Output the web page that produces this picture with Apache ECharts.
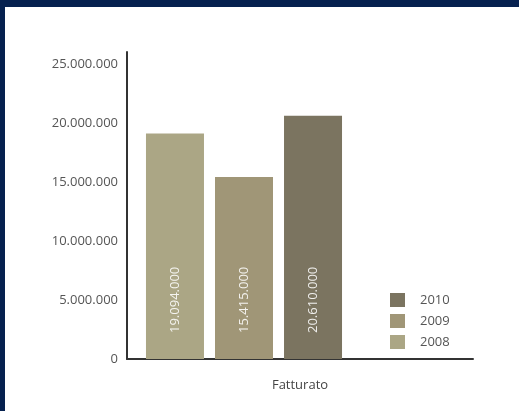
<!DOCTYPE html>
<html>
<head>
<meta charset="utf-8">
<script src="https://cdn.jsdelivr.net/npm/echarts@6/dist/echarts.min.js"></script>
<style>
html,body{margin:0;padding:0;background:#06214f;width:519px;height:411px;overflow:hidden;}
#chart{position:absolute;left:5px;top:7px;width:514px;height:404px;background:#ffffff;}
</style>
</head>
<body>
<div id="chart"></div>
<script>
const category = ['Fatturato'];
const seriesNames = ['2008', '2009', '2010'];
const values2008 = [19094000];
const values2009 = [15415000];
const values2010 = [20610000];
const legendOrder = ['2010', '2009', '2008'];
const colors = ['#aba685', '#a09677', '#7b7460'];

function fmt(v) {
  return String(v).replace(/\B(?=(\d{3})+(?!\d))/g, '.');
}

const chart = echarts.init(document.getElementById('chart'), null, {renderer: 'canvas'});
const dataSets = [values2008, values2009, values2010];

const option = {
  animation: false,
  textStyle: {fontFamily: 'Open Sans'},
  grid: [
    {left: 122, right: 46, top: 45, bottom: 52},
    {left: 122, width: 234, top: 45, bottom: 52}
  ],
  legend: {
    data: legendOrder,
    orient: 'vertical',
    left: 385,
    top: 286,
    padding: 0,
    itemWidth: 15,
    itemHeight: 14,
    itemGap: 7,
    icon: 'rect',
    textStyle: {color: '#555', fontSize: 13, fontFamily: 'Open Sans', padding: [0, 0, 0, 10]}
  },
  xAxis: [
    {
      type: 'category', gridIndex: 0, data: category,
      axisLine: {lineStyle: {color: '#333', width: 2}},
      axisTick: {show: false},
      axisLabel: {show: false},
      name: category[0], nameLocation: 'middle', nameGap: 20,
      nameTextStyle: {color: '#444', fontSize: 13, fontFamily: 'Open Sans'}
    },
    {
      type: 'category', gridIndex: 1, data: category, show: false
    }
  ],
  yAxis: [
    {
      type: 'value', gridIndex: 0, min: 0, max: 26000000, interval: 5000000,
      axisLine: {show: true, lineStyle: {color: '#333', width: 2}},
      axisTick: {show: false},
      splitLine: {show: false},
      axisLabel: {
        color: '#555', fontSize: 13, margin: 9, fontFamily: 'Open Sans',
        formatter: v => (v % 5000000 === 0 ? fmt(v) : '')
      }
    },
    {
      type: 'value', gridIndex: 1, min: 0, max: 26000000, interval: 5000000, show: false
    }
  ],
  series: seriesNames.map((name, i) => ({
    name: name,
    type: 'bar',
    xAxisIndex: 1,
    yAxisIndex: 1,
    data: dataSets[i],
    barWidth: 58,
    barGap: '19%',
    itemStyle: {color: colors[i]},
    label: {
      show: true,
      position: 'insideBottom',
      distance: 26,
      rotate: 90,
      align: 'left',
      verticalAlign: 'middle',
      color: 'rgba(255,255,255,0.88)',
      fontSize: 13,
      fontFamily: 'Open Sans',
      formatter: p => fmt(p.value)
    }
  }))
};
chart.setOption(option);
</script>
</body>
</html>
